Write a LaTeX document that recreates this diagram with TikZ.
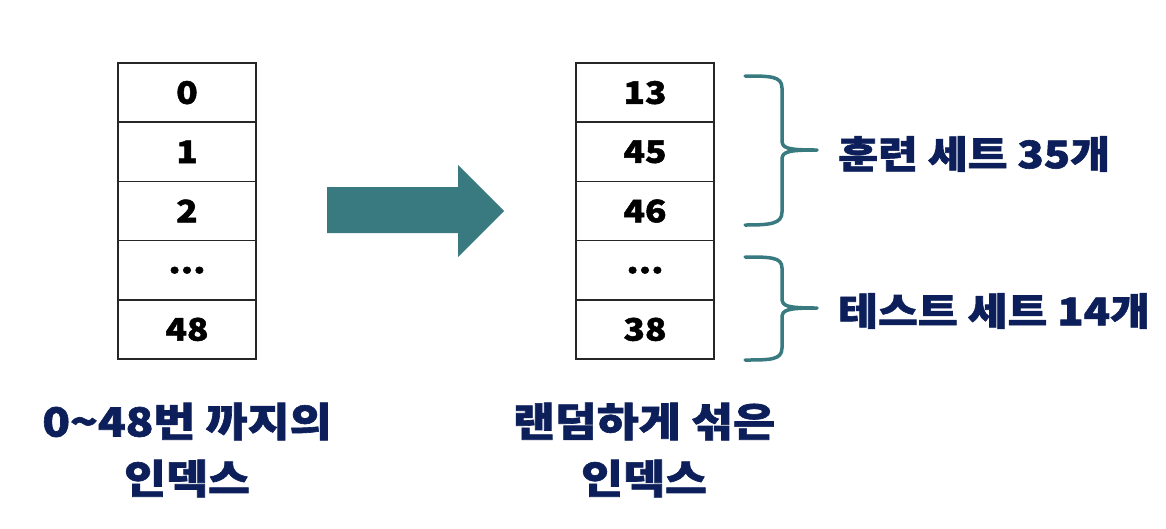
\documentclass[tikz,border=0pt]{standalone}
\usepackage{fontspec}
\setmainfont{Noto Sans CJK KR}[BoldFeatures={FakeBold=1.6,FakeStretch=1.14}]
\definecolor{navy}{HTML}{0C1F5A}
\definecolor{teal}{HTML}{387A80}
\tikzset{
  cell/.style={draw=black!85, line width=1.5pt, minimum width=138pt, minimum height=59.2pt, inner sep=0pt, font=\fontsize{31}{31}\selectfont\bfseries, text=black},
  lbl/.style={text=navy, font=\fontsize{38}{38}\selectfont\bfseries, inner sep=0pt, anchor=west},
  captxt/.style={text=navy, font=\fontsize{40}{40}\selectfont\bfseries, inner sep=0pt},
  brace/.style={draw=teal, line width=3.5pt, line cap=round, line join=round},
}
\begin{document}
\begin{tikzpicture}[x=1pt,y=-1pt]
\useasboundingbox (0,0) rectangle (1166,528);
\fill[white] (0,0) rectangle (1166,528);
% left column
\node[cell] (l0) at (187,92.6) {0};
\node[cell] (l1) at (187,151.8) {1};
\node[cell] (l2) at (187,211.0) {2};
\node[cell] (l3) at (187,270.2) {...};
\node[cell] (l4) at (187,329.4) {48};
% right column
\node[cell] (r0) at (645,92.6) {13};
\node[cell] (r1) at (645,151.8) {45};
\node[cell] (r2) at (645,211.0) {46};
\node[cell] (r3) at (645,270.2) {...};
\node[cell] (r4) at (645,329.4) {38};
% big arrow
\fill[teal] (327,187) -- (458,187) -- (458,165) -- (504,211) -- (458,257) -- (458,233) -- (327,233) -- cycle;
% braces
\coordinate (b1t) at (745,76);
\coordinate (b1b) at (745,225);
\coordinate (b1m) at (817,150);
\draw[brace] (b1t) .. controls (770,76) and (782,76) .. (782,88) -- (782,140) .. controls (782,148) and (786,150) .. (b1m)
  (782,160) .. controls (782,152) and (786,150) .. (b1m)
  (782,160) -- (782,212) .. controls (782,224) and (770,225) .. (b1b);
\coordinate (b2t) at (745,257);
\coordinate (b2b) at (745,360);
\coordinate (b2m) at (817,308);
\draw[brace] (b2t) .. controls (770,257) and (782,257) .. (782,268) -- (782,298) .. controls (782,306) and (786,308) .. (b2m)
  (782,318) .. controls (782,310) and (786,308) .. (b2m)
  (782,318) -- (782,348) .. controls (782,360) and (770,360) .. (b2b);
% labels
\node[lbl] (train) at (838,154) {훈련 세트 35개};
\node[lbl] (test) at (838,311) {테스트 세트 14개};
% captions
\node[captxt, align=center] (capl) at (187,450) {0\textasciitilde48번 까지의\\[17pt]인덱스};
\node[captxt, align=center] (capr) at (644,450) {랜덤하게 섞은\\[17pt]인덱스};
\end{tikzpicture}
\end{document}
